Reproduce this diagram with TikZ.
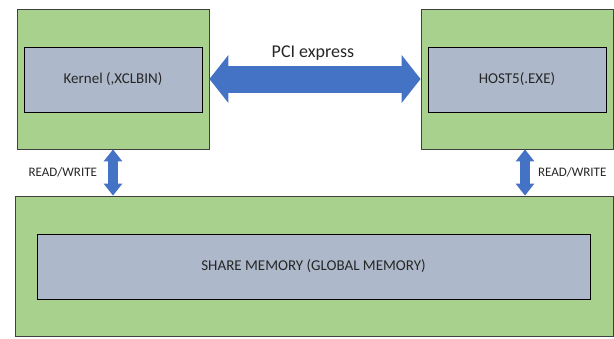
\documentclass[tikz,border=0pt]{standalone}
\usepackage{fontspec}
\setmainfont{Carlito}
\usetikzlibrary{arrows.meta}

\definecolor{boxgreen}{HTML}{A9D18E}
\definecolor{boxgrey}{HTML}{ADB9CA}
\definecolor{arrowblue}{HTML}{4472C4}
\definecolor{textgrey}{HTML}{262626}

\begin{document}
\begin{tikzpicture}[x=1pt,y=-1pt,
  outerbox/.style={draw=black!75, fill=boxgreen, line width=0.8pt, inner sep=0pt},
  innerbox/.style={draw=black, fill=boxgrey, line width=0.8pt, inner sep=0pt,
    text=textgrey, font=\fontsize{15}{18}\selectfont},
  rwlabel/.style={text=textgrey, font=\fontsize{13}{15}\selectfont, inner sep=0pt},
  busarrow/.style={arrowblue, line width=27pt,
    {Triangle[width=47pt,length=19pt]}-{Triangle[width=47pt,length=19pt]}},
  rwarrow/.style={arrowblue, line width=10pt,
    {Triangle[width=18pt,length=12pt]}-{Triangle[width=18pt,length=12pt]}}]

\useasboundingbox (0,0) rectangle (614,338);

% Draw boxes
\node[outerbox, minimum width=192pt, minimum height=140pt] (kernelbox) at (113,79) {};
\node[innerbox, minimum width=178pt, minimum height=65pt] (kernel) at (113,79.5) {Kernel (,XCLBIN)};

\node[outerbox, minimum width=192pt, minimum height=140pt] (hostbox) at (517,79) {};
\node[innerbox, minimum width=178pt, minimum height=65pt] (host) at (517,79.5) {HOST5(.EXE)};

\node[outerbox, minimum width=598pt, minimum height=140pt] (membox) at (314,266) {};
\node[innerbox, minimum width=553pt, minimum height=65pt] (mem) at (313.5,266.5) {SHARE MEMORY (GLOBAL MEMORY)};

% Draw PCI express link
\draw[busarrow] (kernelbox.east) -- (hostbox.west);
\node[text=textgrey, font=\fontsize{18}{21}\selectfont] (pci) at (313,53) {PCI express};

% Draw read/write links
\coordinate (hostrw) at ([xshift=8pt]hostbox.south);
\draw[rwarrow] (kernelbox.south) -- (kernelbox.south |- membox.north)
  node[midway, left=11pt, rwlabel] (rwleft) {READ/WRITE};
\draw[rwarrow] (hostrw) -- (hostrw |- membox.north)
  node[midway, right=8pt, rwlabel] (rwright) {READ/WRITE};

\end{tikzpicture}
\end{document}
